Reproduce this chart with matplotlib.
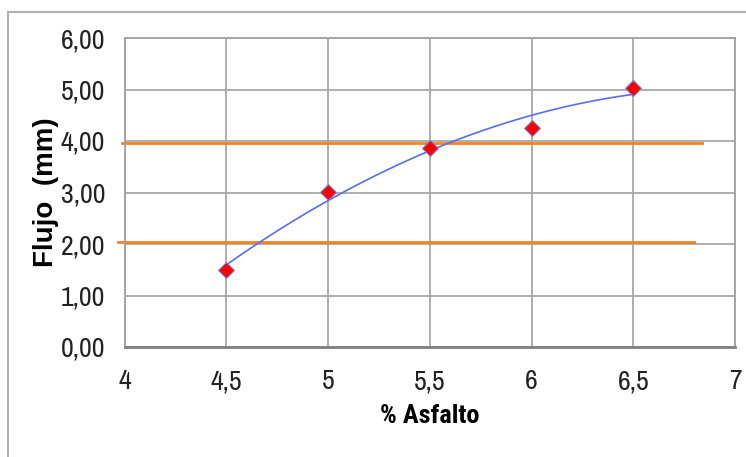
import numpy as np
import matplotlib
matplotlib.use("Agg")
import matplotlib.pyplot as plt
from matplotlib.patches import Rectangle

# data
asfalto = [4.5, 5.0, 5.5, 6.0, 6.5]
flujo = [1.50, 3.01, 3.87, 4.25, 5.02]

# specification limits (orange lines): y value, x start, x end
lim_sup = (3.97, 3.986, 6.84)
lim_inf = (2.03, 3.97, 6.80)

xticks = [4, 4.5, 5, 5.5, 6, 6.5, 7]
xtick_labels = ["4", "4,5", "5", "5,5", "6", "6,5", "7"]
yticks = [0, 1, 2, 3, 4, 5, 6]
ytick_labels = ["0,00", "1,00", "2,00", "3,00", "4,00", "5,00", "6,00"]

plt.rcParams['font.family'] = ['Archivo Narrow', 'DejaVu Sans']

fig = plt.figure(figsize=(7.46, 4.57), dpi=100)
W, H = 746, 457
ax = fig.add_axes([124.5 / W, 1 - 347 / H, (735 - 124.5) / W, (347 - 38) / H])

# outer chart border
fig.patches.append(Rectangle((8 / W, -0.1), 1.2, 1 - 12 / H + 0.1, transform=fig.transFigure,
                             fill=False, edgecolor='#b0b0b0', linewidth=1.5))

# 2nd order trend line
coef = np.polyfit(asfalto, flujo, 2)
xs = np.linspace(asfalto[0], asfalto[-1], 100)
ax.plot(xs, np.polyval(coef, xs), color='#5a6cf0', linewidth=1.2, zorder=3)

ax.plot([lim_sup[1], lim_sup[2]], [lim_sup[0], lim_sup[0]], color='#f5821f', linewidth=2,
        clip_on=False, zorder=2)
ax.plot([lim_inf[1], lim_inf[2]], [lim_inf[0], lim_inf[0]], color='#f5821f', linewidth=2,
        clip_on=False, zorder=2)

ax.plot(asfalto, flujo, linestyle='none', marker='D', markersize=8, markerfacecolor='red',
        markeredgecolor='#6a8ad8', markeredgewidth=0.8, zorder=4)

ax.set_xlim(4, 7)
ax.set_ylim(0, 6)
ax.set_xticks(xticks)
ax.set_xticklabels(xtick_labels)
ax.set_yticks(yticks)
ax.set_yticklabels(ytick_labels)
ax.tick_params(length=0, labelsize=20, colors='#222222')
ax.tick_params(axis='y', pad=14)
ax.tick_params(axis='x', pad=16)
ax.grid(True, color='#a8a8a8', linewidth=1.3)
ax.set_axisbelow(True)
for s in ax.spines.values():
    s.set_color('#a0a0a0')
    s.set_linewidth(1.3)
ax.spines['bottom'].set_color('#808080')
ax.spines['bottom'].set_linewidth(2)

ax.set_xlabel('% Asfalto', fontsize=19, fontweight='bold', family='Roboto Condensed', labelpad=7)
ax.set_ylabel('Flujo  (mm)', fontsize=20, fontweight='bold', family='Liberation Sans', labelpad=1)

fig.savefig('out.png', dpi=100)
